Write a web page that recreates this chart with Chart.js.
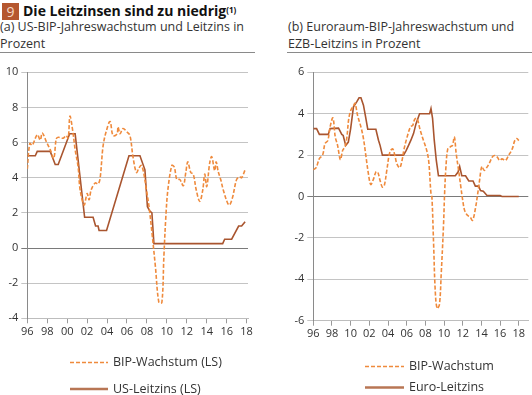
<!DOCTYPE html>
<html><head><meta charset="utf-8">
<script src="https://cdn.jsdelivr.net/npm/chart.js@4"></script>
<style>
html,body{margin:0;padding:0;background:#fff;}
body{width:532px;height:395px;position:relative;overflow:hidden;font-family:"Open Sans",sans-serif;color:#222;}
.abs{position:absolute;white-space:nowrap;}
#num{left:2px;top:3px;width:17px;height:17px;background:#b5572f;color:#f6d9c6;font-size:14px;line-height:17px;text-align:center;}
#title{left:23px;top:1px;font-weight:bold;font-size:14px;line-height:20px;color:#111;}
#title sup{font-size:8px;vertical-align:top;position:relative;top:-1px;}
.sub{font-size:12.5px;line-height:17px;color:#333;}
.rule{height:1px;background:#8a8a8a;}
.leg{font-size:12.5px;color:#333;line-height:14px;}
canvas{position:absolute;}
</style></head><body>
<div id="num" class="abs">9</div>
<div id="title" class="abs">Die Leitzinsen sind zu niedrig<sup>(1)</sup></div>
<div class="abs sub" style="left:0;top:18px;">(a) US-BIP-Jahreswachstum und Leitzins in<br>Prozent</div>
<div class="abs sub" style="left:288px;top:18px;">(b) Euroraum-BIP-Jahreswachstum und<br>EZB-Leitzins in Prozent</div>
<div class="abs rule" style="left:0;top:52px;width:255px;"></div>
<div class="abs rule" style="left:287px;top:52px;width:245px;"></div>

<div style="position:absolute;left:0;top:60px;width:256px;height:285px;"><canvas id="c1"></canvas></div>
<div style="position:absolute;left:282px;top:60px;width:250px;height:287px;"><canvas id="c2"></canvas></div>

<svg class="abs" style="left:0;top:0;" width="532" height="395">
  <line x1="70" y1="362.5" x2="108" y2="362.5" stroke="#ef8a3c" stroke-width="1.5" stroke-dasharray="4 2"/>
  <line x1="70" y1="389" x2="108" y2="389" stroke="#b87654" stroke-width="2.5"/>
  <line x1="365" y1="366.5" x2="404" y2="366.5" stroke="#ef8a3c" stroke-width="1.5" stroke-dasharray="4 2"/>
  <line x1="365" y1="387.5" x2="404" y2="387.5" stroke="#b87654" stroke-width="2.5"/>
</svg>
<div class="abs leg" style="left:113px;top:355px;">BIP-Wachstum (LS)</div>
<div class="abs leg" style="left:113px;top:382px;">US-Leitzins (LS)</div>
<div class="abs leg" style="left:409px;top:359px;">BIP-Wachstum</div>
<div class="abs leg" style="left:409px;top:380px;">Euro-Leitzins</div>

<script>
// ---- data ----
const xTickYears = [1996,1998,2000,2002,2004,2006,2008,2010,2012,2014,2016,2018];
const leftXLabels = ['96','98','00','02','04','06','08','10','12','14','16','18'];
const rightXLabels = ['96','98','10','02','04','06','08','10','12','14','16','18'];

const usGdpYears = [1996.0,1996.25,1996.5,1997.0,1997.3,1997.5,1997.95,1998.3,1998.65,1998.9,1999.1,1999.6,1999.9,2000.1,2000.28,2000.55,2000.8,2001.1,2001.3,2001.7,2002.0,2002.2,2002.4,2002.8,2003.1,2003.3,2003.6,2003.9,2004.3,2004.6,2005.0,2005.1,2005.3,2005.6,2006.0,2006.3,2006.6,2006.95,2007.2,2007.45,2007.7,2007.95,2008.2,2008.5,2008.85,2009.2,2009.5,2009.7,2009.9,2010.1,2010.5,2010.75,2011.0,2011.3,2011.65,2011.9,2012.1,2012.4,2012.65,2012.95,2013.3,2013.6,2013.8,2014.0,2014.3,2014.5,2014.8,2014.95,2015.15,2015.4,2015.66,2016.1,2016.3,2016.6,2016.75,2017.0,2017.3,2017.5,2017.85];
const usGdpValues = [4.5,5.95,5.85,6.45,6.15,6.55,6.0,5.6,5.1,6.2,6.3,6.25,6.4,6.25,7.5,6.7,5.6,4.6,3.3,2.45,3.1,2.75,3.3,3.7,3.65,3.95,5.8,6.6,7.2,6.4,6.5,6.9,6.5,6.8,6.6,6.4,5.2,4.3,4.55,4.7,4.2,3.3,2.4,0.9,-1.05,-3.1,-3.1,-0.5,1.8,3.3,4.7,4.6,3.9,3.9,3.55,4.3,4.9,4.3,4.2,3.3,2.65,3.3,4.2,3.5,4.85,5.2,4.4,4.9,4.35,3.9,3.3,2.55,2.45,2.9,3.3,3.9,4.05,4.0,4.45];

const usRateYears = [1996.0,1996.8,1997.0,1998.3,1998.8,1999.1,2000.25,2000.8,2001.75,2002.6,2002.85,2003.1,2003.2,2003.95,2006.2,2007.3,2007.8,2008.05,2008.3,2008.5,2008.7,2015.6,2015.8,2016.5,2017.2,2017.5,2017.85];
const usRateValues = [5.25,5.25,5.5,5.5,4.75,4.75,6.5,6.5,1.75,1.75,1.25,1.25,1.0,1.0,5.25,5.25,4.45,2.35,2.1,2.0,0.25,0.25,0.5,0.5,1.25,1.25,1.5];

const euGdpYears = [1996.0,1996.3,1996.65,1997.0,1997.25,1997.55,1997.8,1998.1,1998.35,1998.6,1998.9,1999.15,1999.4,1999.6,1999.8,2000.05,2000.3,2000.47,2000.75,2001.1,2001.37,2001.65,2001.9,2002.15,2002.45,2002.7,2002.9,2003.15,2003.4,2003.6,2003.87,2004.2,2004.5,2004.77,2004.95,2005.25,2005.5,2005.7,2006.0,2006.4,2006.65,2006.85,2007.1,2007.45,2007.8,2008.1,2008.35,2008.6,2008.7,2008.88,2009.05,2009.25,2009.5,2009.7,2009.95,2010.05,2010.2,2010.4,2010.67,2010.9,2011.1,2011.3,2011.56,2011.8,2012.0,2012.2,2012.5,2012.8,2013.05,2013.35,2013.6,2013.8,2014.05,2014.3,2014.6,2014.9,2015.15,2015.4,2015.7,2015.96,2016.2,2016.57,2016.9,2017.3,2017.57,2017.8,2018.0];
const euGdpValues = [1.29,1.39,1.83,2.0,2.55,2.7,3.36,3.8,2.88,2.47,1.78,2.23,2.42,2.88,3.77,4.2,4.37,4.5,3.9,3.36,2.8,1.9,1.1,0.58,0.85,1.18,1.18,0.77,0.45,0.53,1.26,2.15,2.3,1.9,1.58,1.39,1.74,2.26,2.8,3.36,3.44,3.72,3.77,3.2,2.7,2.3,1.74,0.13,-0.03,-2.28,-4.5,-5.4,-5.24,-3.7,-1.3,0.05,1.42,2.3,2.4,2.47,2.88,2.07,1.26,0.45,-0.19,-0.67,-0.91,-1.0,-1.15,-0.6,0.13,0.77,1.45,1.26,1.42,1.66,1.9,1.98,1.9,1.74,1.82,1.74,1.98,2.3,2.7,2.8,2.7];

const euRateYears = [1996.0,1996.35,1996.65,1997.6,1997.8,1998.7,1999.05,1999.2,1999.47,1999.75,2000.0,2000.3,2000.65,2000.9,2001.1,2001.37,2001.6,2001.83,2002.7,2002.98,2003.15,2003.4,2005.66,2005.95,2006.2,2006.45,2006.73,2007.0,2007.38,2008.45,2008.6,2008.77,2008.95,2009.17,2009.4,2011.2,2011.5,2011.67,2011.9,2012.3,2012.65,2013.1,2013.35,2013.7,2013.9,2014.2,2014.6,2016.0,2016.2,2018.0];
const euRateValues = [3.28,3.28,3.0,3.0,3.28,3.3,3.0,2.95,2.47,2.63,3.28,4.33,4.57,4.77,4.77,4.41,3.85,3.25,3.25,2.72,2.47,2.0,2.0,2.23,2.47,2.72,3.04,3.52,4.0,4.0,4.25,3.77,2.72,1.74,1.0,1.0,1.18,1.45,1.0,1.0,0.75,0.75,0.5,0.5,0.29,0.25,0.05,0.05,0.0,0.0];

// ---- chart ----
const GDP_COLOR = '#ef8a3c';
const RATE_COLOR = '#a9552f';
const pts = (xs, ys) => xs.map((x,i)=>({x:x, y:ys[i]}));

function makeChart(id, cfg){
  const ctx = document.getElementById(id);
  return new Chart(ctx, {
    type:'line',
    data:{datasets:[
      {label:cfg.gdpLabel, data:pts(cfg.gdpX,cfg.gdpY), borderColor:GDP_COLOR, borderWidth:1.6, borderDash:[4,2], pointRadius:0, tension:0.35, fill:false},
      {label:cfg.rateLabel, data:pts(cfg.rateX,cfg.rateY), borderColor:RATE_COLOR, borderWidth:1.6, pointRadius:0, tension:0, fill:false}
    ]},
    options:{
      responsive:true, maintainAspectRatio:false, animation:false,
      devicePixelRatio:1,
      layout:{padding:{top:cfg.padTop,right:cfg.padRight,left:0,bottom:0}},
      plugins:{legend:{display:false}, tooltip:{enabled:false}},
      scales:{
        x:{type:'linear', min:1996, max:cfg.xMax,
          afterBuildTicks:s=>{s.ticks = xTickYears.map(v=>({value:v}));},
          afterFit:s=>{s.height = cfg.xAxisH;},
          ticks:{autoSkip:false, maxRotation:0, padding:2, color:'#333', font:{family:'Open Sans', size:11},
            callback:(v)=>{const i = xTickYears.indexOf(v); return i>=0 ? cfg.xLabels[i] : '';}},
          grid:{drawOnChartArea:false, drawTicks:true, tickLength:5, color:'#9a9a9a'},
          border:{display:true, color:'#bdbdbd'}
        },
        y:{min:cfg.yMin, max:cfg.yMax,
          afterFit:s=>{s.width = cfg.yAxisW;},
          ticks:{stepSize:2, padding:3, color:'#333', font:{family:'Open Sans', size:11}},
          grid:{drawTicks:true, tickLength:6, lineWidth:1,
            color:(c)=> (c.tick && c.tick.value===0) ? '#7a7a7a' : '#c4c4c4'},
          border:{display:true, color:'#8a8a8a'}
        }
      }
    }
  });
}

makeChart('c1', {gdpLabel:'BIP-Wachstum (LS)', rateLabel:'US-Leitzins (LS)',
  gdpX:usGdpYears, gdpY:usGdpValues, rateX:usRateYears, rateY:usRateValues,
  xLabels:leftXLabels, xMax:2018.14, yMin:-4, yMax:10,
  padTop:12.3, padRight:8, yAxisW:27.3, xAxisH:26.7});
makeChart('c2', {gdpLabel:'BIP-Wachstum', rateLabel:'Euro-Leitzins',
  gdpX:euGdpYears, gdpY:euGdpValues, rateX:euRateYears, rateY:euRateValues,
  xLabels:rightXLabels, xMax:2019.02, yMin:-6, yMax:6,
  padTop:12.3, padRight:3.7, yAxisW:31.3, xAxisH:26.3});
</script>
</body></html>
